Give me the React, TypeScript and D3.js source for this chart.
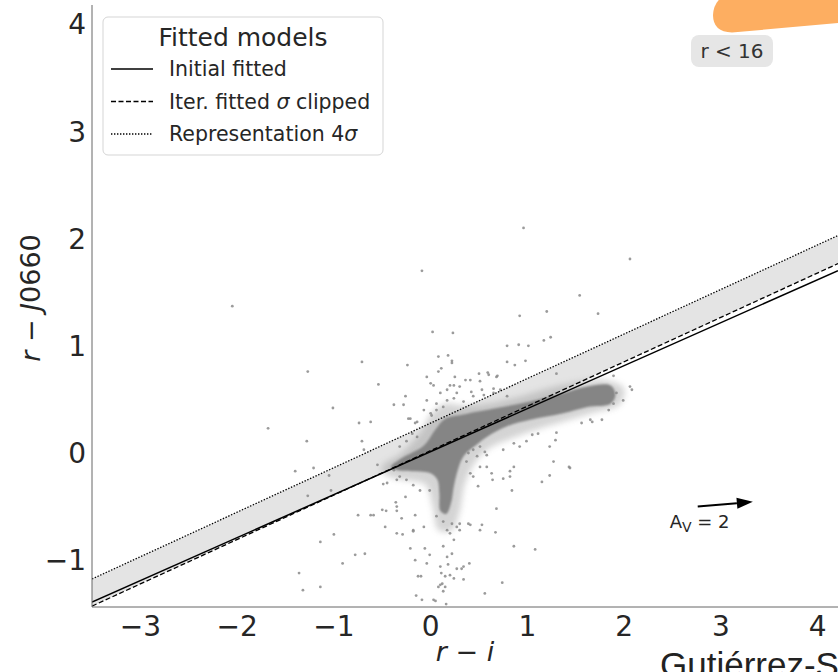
import React from 'react';
import * as d3 from 'd3';

const xTicks = [-3, -2, -1, 0, 1, 2, 3, 4];
const yTicks = [-1, 0, 1, 2, 3, 4];
const xDomain: [number, number] = [-3.5, 4.21];
const yDomain: [number, number] = [-1.437, 4.18];

const modelNames = ['Initial fitted', 'Iter. fitted σ clipped', 'Representation 4σ'];
const modelSlopes = [0.4012, 0.4145, 0.4157];
const modelIntercepts = [0.013, 0.022, 0.279];
const modelDash = ['none', '5,2.5', '1.4,1.6'];

// dense core of the point cloud (outline)
const corePolygon: [number, number][] = [
  [-0.41, -0.13], [-0.3, -0.05], [-0.07, 0.07], [0.05, 0.22], [0.15, 0.32], [0.34, 0.36], [0.69, 0.42],
  [1.03, 0.48], [1.37, 0.56], [1.62, 0.62], [1.86, 0.63], [1.91, 0.54], [1.86, 0.46], [1.62, 0.43],
  [1.37, 0.37], [1.03, 0.31], [0.79, 0.25], [0.58, 0.15], [0.45, 0.06], [0.34, -0.03], [0.28, -0.16],
  [0.24, -0.31], [0.21, -0.47], [0.16, -0.57], [0.1, -0.54], [0.09, -0.38], [0.07, -0.25], [0.0, -0.19],
  [-0.17, -0.17], [-0.34, -0.16],
];

// medium density halo around the core
const haloPolygon: [number, number][] = [
  [-0.5, -0.12], [-0.3, 0.0], [-0.1, 0.2], [0.0, 0.36], [0.15, 0.46], [0.35, 0.44], [0.6, 0.46],
  [0.9, 0.52], [1.2, 0.6], [1.5, 0.66], [1.8, 0.68], [2.0, 0.6], [1.95, 0.45], [1.7, 0.38],
  [1.4, 0.3], [1.1, 0.22], [0.85, 0.14], [0.6, 0.04], [0.45, -0.1], [0.35, -0.3], [0.3, -0.55],
  [0.22, -0.72], [0.08, -0.72], [0.02, -0.5], [-0.05, -0.3], [-0.2, -0.26], [-0.4, -0.23], [-0.5, -0.18],
];

const scatterPoints: [number, number][] = [
  [-2.05, 1.37], [-0.09, 1.7], [0.96, 2.1], [2.06, 1.81], [1.54, 1.47], [1.2, 1.32], [1.73, 1.3],
  [0.92, 1.28], [0.02, 1.13], [0.23, 1.12], [0.79, 1.0], [0.91, 1.01], [1.01, 1.0], [1.17, 1.05],
  [1.24, 1.08], [0.08, 0.9], [0.18, 0.91], [0.22, 0.86], [0.22, 0.84], [0.11, 0.79], [0.08, 0.76],
  [0.79, 0.85], [0.87, 0.82], [0.98, 0.86], [-0.71, 0.85], [-0.24, 0.82], [-1.27, 0.76], [0.5, 0.74],
  [0.59, 0.75], [0.69, 0.72], [0.25, 0.71], [1.3, 0.74], [1.89, 0.72], [-0.54, 0.64], [-0.26, 0.53],
  [-0.38, 0.45], [-0.28, 0.45], [-1.01, 0.42], [-1.68, 0.23], [-0.74, 0.28], [-0.62, 0.29], [-0.23, 0.32],
  [-0.16, 0.28], [-1.28, 0.11], [-0.71, 0.11], [-0.69, 0.03], [-1.4, -0.17], [-1.21, -0.14], [-1.05, -0.21],
  [-1.03, -0.35], [-1.27, -0.4], [-0.55, -0.11], [-0.49, -0.29], [-0.46, -0.54], [-0.59, -0.58],
  [-0.75, -0.58], [-0.36, -0.46], [-0.35, -0.54], [-0.26, -0.41], [-0.16, -0.58], [-1.0, -0.76],
  [-1.14, -0.83], [-0.29, -0.76], [-0.18, -0.73], [-0.21, -0.89], [-0.16, -1.0], [-0.68, -0.94],
  [-0.78, -0.95], [-0.91, -1.03], [-1.36, -1.12], [-1.32, -1.28], [-1.14, -1.25], [-0.13, -1.15],
  [-0.15, -1.33], [0.1, -1.06], [0.11, -1.12], [0.15, -1.15], [0.2, -1.14], [0.24, -1.17], [0.34, -1.18],
  [0.32, -1.08], [0.4, -1.03], [0.74, -1.21], [0.56, -1.31], [0.1, -1.23], [0.13, -1.29], [0.05, -1.38],
  [0.16, -1.41], [-0.09, -1.37], [-0.1, -1.15], [2.06, 0.62], [2.08, 0.59], [1.99, 0.49], [1.89, 0.46],
  [1.77, 0.31], [1.67, 0.29], [1.56, 0.28], [1.11, 0.18], [1.3, 0.19], [0.86, 0.09], [0.92, 0.06],
  [0.75, 0.03], [1.27, -0.08], [1.43, -0.13], [1.15, -0.27], [1.23, -0.21], [0.82, -0.17], [0.64, -0.25],
  [0.49, -0.31], [0.41, -0.19], [0.58, -0.13], [0.68, -0.52], [0.53, -0.67], [0.39, -0.66], [0.27, -0.69],
  [0.86, -0.87], [1.08, -0.9], [-0.3, -0.61], [-0.06, -0.89], [-0.01, -0.95], [-0.04, -1.03], [0.03, -1.37],
  [0.13, -0.87], [0.17, -0.97], [0.22, -0.94], [0.18, -1.04], [0.27, -1.08], [0.34, -1.06], [0.12, -1.22],
  [0.08, -1.25], [0.15, -1.25], [-0.5, -0.53], [-0.35, -0.5], [-0.47, -0.69], [-0.35, -0.75], [-0.62, -0.58],
  [0.13, -0.64], [0.22, -0.66], [0.3, -0.72], [0.17, -0.72], [0.24, -0.81], [0.37, -0.08], [0.44, 0.03],
  [0.51, 0.06], [0.56, 0.01], [0.63, -0.19], [0.36, 0.68], [0.24, 0.63], [0.17, 0.59], [0.27, 0.56],
  [0.42, 0.57], [0.53, 0.59], [0.65, 0.6], [0.79, 0.53], [-0.21, 0.32], [-0.04, 0.49], [0.06, 0.4],
  [0.01, 0.35], [1.92, 0.56], [1.84, 0.4], [1.65, 0.31], [1.44, -0.14], [1.29, 0.12], [1.23, 0.06],
  [1.05, 0.17], [0.99, 0.11], [0.86, -0.13], [0.82, -0.22], [0.75, -0.24], [0.84, -0.35], [0.51, -0.13],
  [0.58, -0.02], [0.48, -0.03], [0.39, 0.0], [0.44, -0.22], [0.0, 0.65], [0.03, 0.63], [0.2, 0.63],
  [0.3, 0.62], [0.41, 0.68], [0.51, 0.67], [0.6, 0.73], [0.68, 0.71], [0.1, 0.56], [0.17, 0.49],
  [0.24, 0.51], [0.34, 0.48], [0.44, 0.53], [0.55, 0.54], [0.65, 0.56], [0.72, 0.59], [-0.07, 0.4],
  [0.0, 0.37], [-0.14, 0.29], [-0.19, 0.18], [-0.25, 0.11], [-0.32, 0.06], [-0.14, 0.15], [-0.04, 0.71],
  [0.06, 0.46], [0.13, 0.43], [-0.38, -0.16], [-0.32, -0.22], [-0.25, -0.25], [-0.18, -0.3], [-0.35, -0.25],
  [-0.45, -0.28], [-0.11, -0.35], [-0.01, -0.35], [-0.07, -0.69], [-0.18, -0.72], [0.06, -0.59],
  [0.2, -0.75], [0.3, -0.66], [0.41, -0.67], [0.51, -0.72], [0.67, -0.74],
];

const arrowFrom: [number, number] = [2.76, -0.5];
const arrowTo: [number, number] = [3.33, -0.455];
const arrowLabelPos: [number, number] = [2.47, -0.7];
const magCut = 'r < 16';

const W = 838;
const H = 672;
const L = 92, R = 838, T = 5, B = 607;
const FONT = '"DejaVu Sans", sans-serif';

export default function App() {
  const x = d3.scaleLinear().domain(xDomain).range([L, R]);
  const y = d3.scaleLinear().domain(yDomain).range([B, T]);

  const lineFor = (i: number) => {
    const xs = [xDomain[0], xDomain[1]];
    return d3.line<number>().x((v) => x(v)).y((v) => y(modelSlopes[i] * v + modelIntercepts[i]))(xs) as string;
  };
  const bandXs = d3.range(0, 11).map((k) => xDomain[0] + ((xDomain[1] - xDomain[0]) * k) / 10);
  const band = d3
    .area<number>()
    .x((v) => x(v))
    .y0((v) => y(modelSlopes[1] * v + modelIntercepts[1]))
    .y1((v) => y(modelSlopes[2] * v + modelIntercepts[2]))(bandXs) as string;

  const poly = d3.line<[number, number]>().x((d) => x(d[0])).y((d) => y(d[1])).curve(d3.curveCatmullRomClosed.alpha(0.5));

  const ax1 = x(arrowFrom[0]), ay1 = y(arrowFrom[1]);
  const ax2 = x(arrowTo[0]), ay2 = y(arrowTo[1]);
  const ang = Math.atan2(ay2 - ay1, ax2 - ax1);
  const hl = 16, hw = 5.5;
  const bx = ax2 - hl * Math.cos(ang), by = ay2 - hl * Math.sin(ang);
  const head = `M${ax2},${ay2} L${bx - hw * Math.sin(ang)},${by + hw * Math.cos(ang)} L${bx + hw * Math.sin(ang)},${by - hw * Math.cos(ang)} Z`;

  return (
    <svg width={W} height={H} style={{ position: 'absolute', left: 0, top: 0, background: '#fff' }} fontFamily={FONT}>
      <defs>
        <clipPath id="plotclip">
          <rect x={L} y={T} width={R - L} height={B - T} />
        </clipPath>
        <filter id="haloBlur" x="-20%" y="-20%" width="140%" height="140%">
          <feGaussianBlur stdDeviation={3} />
        </filter>
        <filter id="coreBlur" x="-10%" y="-10%" width="120%" height="120%">
          <feGaussianBlur stdDeviation={1.2} />
        </filter>
      </defs>
      <rect x={0} y={0} width={W} height={H} fill="#fff" />
      <g clipPath="url(#plotclip)">
        <path d={band} fill="#e4e4e4" />
        <path d={poly(haloPolygon) as string} fill="#8f8f8f" opacity={0.38} filter="url(#haloBlur)" />
        <path d={poly(corePolygon) as string} fill="#858585" filter="url(#coreBlur)" />
        {scatterPoints.map((p, i) => (
          <circle key={i} cx={x(p[0])} cy={y(p[1])} r={1.4} fill="#8a8a8a" opacity={0.85} />
        ))}
        {modelNames.map((n, i) => (
          <path key={n} d={lineFor(i)} fill="none" stroke="#000" strokeWidth={i === 0 ? 1.5 : 1.3} strokeDasharray={modelDash[i]} />
        ))}
      </g>
      {/* spines */}
      <line x1={L} x2={L} y1={T} y2={B} stroke="#666" strokeWidth={1} />
      <line x1={L} x2={R} y1={B} y2={B} stroke="#666" strokeWidth={1} />
      {xTicks.map((t) => (
        <text key={t} x={x(t)} y={636} textAnchor="middle" fontSize={28} fill="#262626">
          {t < 0 ? '\u2212' + Math.abs(t) : String(t)}
        </text>
      ))}
      {yTicks.map((t) => (
        <text key={t} x={86} y={y(t)} dy="0.36em" textAnchor="end" fontSize={28} fill="#262626">
          {t < 0 ? '\u2212' + Math.abs(t) : String(t)}
        </text>
      ))}
      <text x={(L + R) / 2} y={661} textAnchor="middle" fontSize={27} fill="#262626">
        <tspan fontStyle="italic">r</tspan>
        <tspan>{' \u2212 '}</tspan>
        <tspan fontStyle="italic">i</tspan>
      </text>
      <text transform={`translate(40,${(T + B) / 2 - 8}) rotate(-90)`} textAnchor="middle" fontSize={27} fill="#262626">
        <tspan fontStyle="italic">r</tspan>
        <tspan>{' \u2212 '}</tspan>
        <tspan fontStyle="italic">J</tspan>
        <tspan>0660</tspan>
      </text>
      {/* legend */}
      <rect x={103} y={17} width={280} height={138} rx={5} fill="#fff" stroke="#d5d5d5" strokeWidth={1} />
      <text x={243} y={46} textAnchor="middle" fontSize={25} fill="#262626">Fitted models</text>
      {modelNames.map((n, i) => {
        const cy = 69 + i * 32.5;
        const parts = n.split('σ');
        return (
          <g key={n}>
            <line x1={111} x2={153} y1={cy} y2={cy} stroke="#000" strokeWidth={i === 0 ? 1.5 : 1.3} strokeDasharray={modelDash[i]} />
            <text x={169} y={cy} dy="0.36em" fontSize={20.5} fill="#262626">
              {parts[0]}
              {parts.length > 1 && <tspan fontStyle="italic">σ</tspan>}
              {parts.length > 1 && parts[1]}
            </text>
          </g>
        );
      })}
      {/* magnitude cut label */}
      <rect x={691} y={35} width={82} height={32} rx={8} fill="#e6e6e6" />
      <text x={732} y={51} dy="0.36em" textAnchor="middle" fontSize={20} fill="#333">{magCut}</text>
      {/* orange shape cut at the top right */}
      <path d="M838,-10 L838,23 L732,32.5 Q713,32 713,15 Q714,-4 735,-8 Z" fill="#fdae61" />
      {/* reddening arrow */}
      <line x1={ax1} y1={ay1} x2={bx} y2={by} stroke="#000" strokeWidth={2} />
      <path d={head} fill="#000" />
      <text x={x(arrowLabelPos[0])} y={y(arrowLabelPos[1])} fontSize={18} fill="#262626">
        A<tspan fontSize={14} dy={4}>V</tspan>
        <tspan dy={-4}>{' = 2'}</tspan>
      </text>
      <text x={660} y={677} fontSize={35} fontFamily='"Liberation Sans", Arial, sans-serif' fill="#222">Gutiérrez-Soto</text>
    </svg>
  );
}
